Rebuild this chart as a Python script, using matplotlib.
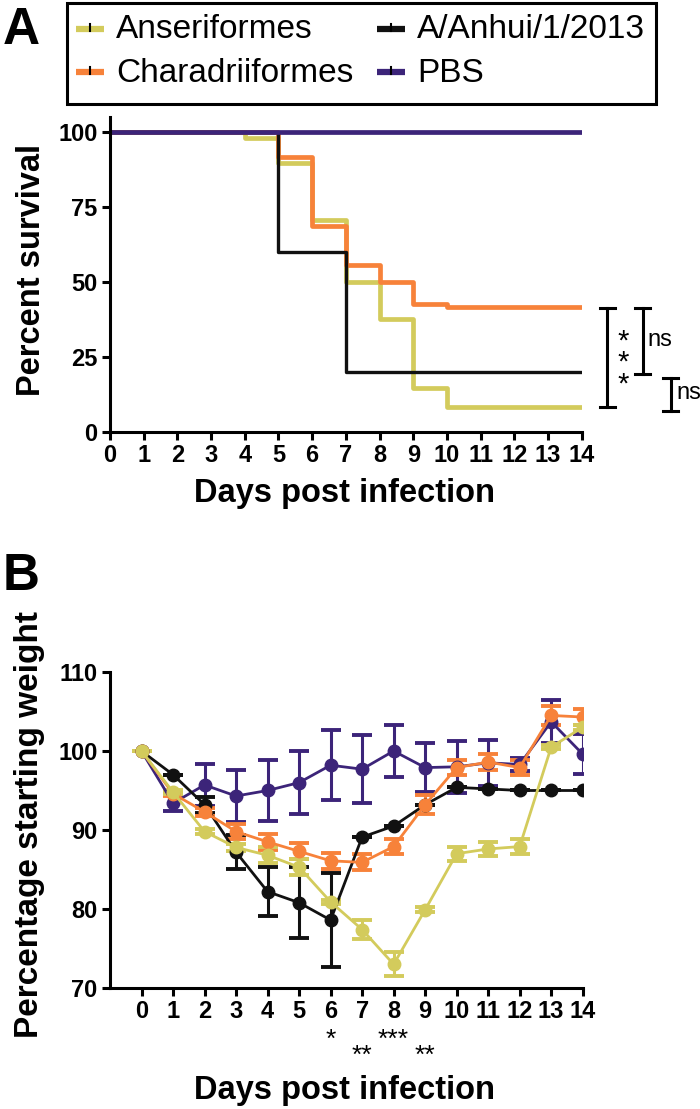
"""Survival (A) and weight loss (B) after infection, two-panel figure."""

import matplotlib.pyplot as plt
from matplotlib.lines import Line2D
from matplotlib.patches import Rectangle

OUT = "out.png"

# ---- data -----------------------------------------------------------------
labels = ["Anseriformes", "Charadriiformes", "A/Anhui/1/2013", "PBS"]
colors = ["#d3cb5c", "#f7823a", "#111111", "#3c2479"]

# panel A: Kaplan-Meier change points (day, % surviving)
surv_days = [
    [0, 4, 5, 6, 7, 8, 9, 10, 14],
    [0, 5, 6, 7, 8, 9, 10, 14],
    [0, 5, 7, 14],
    [0, 14],
]
surv_vals = [
    [100, 97.9, 89.6, 70.8, 50.0, 37.5, 14.6, 8.3, 8.3],
    [100, 91.7, 68.5, 55.6, 50.0, 42.5, 41.5, 41.5],
    [100, 60, 20, 20],
    [100, 100],
]

# panel B: mean weight (% of day 0) and SEM
days = list(range(15))
weight_mean = [
    [100, 94.8, 89.8, 87.8, 86.8, 85.3, 80.9, 77.4, 73.0, 79.9, 87.0, 87.6, 87.9, 100.5, 103.0],
    [100, 94.6, 92.3, 89.8, 88.5, 87.3, 86.1, 85.9, 87.9, 93.2, 97.9, 98.6, 97.9, 104.5, 104.3],
    [100, 97.0, 93.2, 87.2, 82.2, 80.8, 78.6, 89.1, 90.5, 93.2, 95.4, 95.2, 95.0, 95.0, 95.0],
    [100, 93.4, 95.7, 94.3, 95.0, 96.0, 98.2, 97.7, 100.0, 97.9, 98.0, 98.5, 98.3, 103.7, 99.6],
]
weight_sem = [
    [0, 0.3, 0.3, 0.4, 1.0, 1.0, 0.3, 1.2, 1.5, 0.3, 0.9, 0.9, 0.9, 0.3, 0.3],
    [0, 0.3, 0.5, 1.0, 1.0, 1.0, 1.0, 1.0, 1.0, 1.2, 1.0, 1.0, 1.0, 1.2, 1.0],
    [0, 0, 1.0, 2.2, 3.1, 4.5, 5.9, 0, 0, 0, 0, 0, 0, 0, 0],
    [0, 1.0, 2.7, 3.3, 3.9, 4.0, 4.4, 4.3, 3.3, 3.1, 3.3, 2.9, 0.8, 2.7, 2.5],
]

# significance marks
brackets_a = [(41.2, 8.2), (41.2, 19.2), (17.9, 7.1)]
bracket_text = ["*\n*\n*", "ns", "ns"]
stars_b = {6: "*", 7: "**", 8: "***", 9: "**"}

# ---- style ----------------------------------------------------------------
SANS = ["Liberation Sans", "DejaVu Sans"]
plt.rcParams["font.family"] = SANS
plt.rcParams["axes.linewidth"] = 2.2

W, H = 700, 1109
fig = plt.figure(figsize=(W / 100, H / 100), dpi=100)


def fx(px):
    return px / W


def fy(py):
    return 1 - py / H


def style_axes(ax):
    for s in ("top", "right"):
        ax.spines[s].set_visible(False)
    ax.tick_params(width=2.2, length=6, direction="out", pad=3)
    for lab in ax.get_xticklabels() + ax.get_yticklabels():
        lab.set_fontweight("bold")
        lab.set_fontsize(17)


# ---- panel A --------------------------------------------------------------
axA = fig.add_axes([fx(110), fy(432), fx(581.7 - 110), (432 - 117) / H])
for d, v, c in zip(surv_days, surv_vals, colors):
    lw = 2.4 if c == "#111111" else 3.4
    axA.step(d, v, where="post", color=c, lw=lw, solid_capstyle="butt")
axA.set_xlim(0, 14)
axA.set_ylim(0, 105)
axA.set_xticks(range(15))
axA.set_yticks([0, 25, 50, 75, 100])
style_axes(axA)

# significance brackets to the right of the curves
bx = [14.76, 15.81, 16.64]
cap = 0.23
for (top, bot), x in zip(brackets_a, bx):
    axA.plot([x, x], [bot, top], color="k", lw=2.2, clip_on=False)
    for yy in (top, bot):
        axA.plot([x - cap, x + cap], [yy, yy], color="k", lw=2.2, clip_on=False)
axA.text(15.22, 23.0, bracket_text[0], fontsize=21, ha="center", va="center",
         linespacing=0.72, clip_on=False)
axA.text(15.96, 30.5, bracket_text[1], fontsize=17, ha="left", va="center",
         clip_on=False)
axA.text(16.82, 13.0, bracket_text[2], fontsize=17, ha="left", va="center",
         clip_on=False)

fig.text(fx(32), fy(270), "Percent survival", rotation=90, fontsize=23.5,
         fontweight="bold", ha="center", va="center")
fig.text(fx(344), fy(494), "Days post infection", fontsize=23.5,
         fontweight="bold", ha="center", va="center")

# ---- legend box (drawn by hand) ------------------------------------------
fig.patches.append(Rectangle((fx(67), fy(104)), fx(656 - 67), (104 - 3) / H,
                             transform=fig.transFigure, fill=False,
                             edgecolor="k", lw=2.2))
leg_pos = [(76, 29), (76, 72), (377, 29), (377, 72)]
for lab, c, (px, py) in zip(labels, colors, leg_pos):
    fig.lines.append(Line2D([fx(px), fx(px + 28)], [fy(py), fy(py)],
                            transform=fig.transFigure, color=c, lw=4.5,
                            solid_capstyle="butt"))
    fig.lines.append(Line2D([fx(px + 14)] * 2, [fy(py - 5), fy(py + 2)],
                            transform=fig.transFigure, color="k", lw=1.5))
    fig.text(fx(px + 40), fy(py + 1), lab, fontsize=24, ha="left",
             va="center")

fig.text(fx(21), fy(30), "A", fontsize=37, fontweight="bold",
         ha="center", va="center")
fig.text(fx(21), fy(576), "B", fontsize=37, fontweight="bold",
         ha="center", va="center")

# ---- panel B --------------------------------------------------------------
axB = fig.add_axes([fx(110), fy(988), fx(582.7 - 110), (988 - 672) / H])
for i in [3, 2, 1, 0]:
    axB.errorbar(days, weight_mean[i], yerr=weight_sem[i], color=colors[i],
                 lw=2.0, marker="o", ms=9, elinewidth=2.2, capsize=7,
                 capthick=2.8)
axB.set_xlim(-1, 14)
axB.set_ylim(70, 110)
axB.set_xticks(days)
axB.set_yticks([70, 80, 90, 100, 110])
style_axes(axB)

xt = axB.get_xaxis_transform()
for d, s in stars_b.items():
    yy = -0.165 if len(s) % 2 else -0.215
    axB.text(d, yy, s, transform=xt, fontsize=19, ha="center", va="center")

fig.text(fx(30), fy(825), "Percentage starting weight", rotation=90,
         fontsize=24, fontweight="bold", ha="center", va="center")
fig.text(fx(344), fy(1090), "Days post infection", fontsize=23.5,
         fontweight="bold", ha="center", va="center")

fig.savefig(OUT, dpi=100)
